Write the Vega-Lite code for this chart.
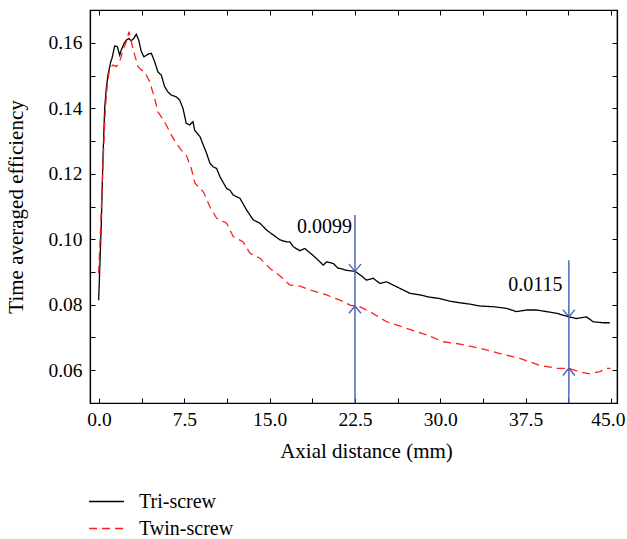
{
  "$schema": "https://vega.github.io/schema/vega-lite/v6.json",
  "autosize": "none",
  "width": 527,
  "height": 393,
  "padding": {"left": 90, "top": 10, "right": 10, "bottom": 136},
  "background": "white",
  "config": {
    "font": "Liberation Serif",
    "view": {"stroke": "black", "strokeWidth": 1.2},
    "axis": {
      "grid": false,
      "domainColor": "black",
      "domainWidth": 1.2,
      "tickColor": "black",
      "tickWidth": 1,
      "tickSize": -5,
      "labelColor": "black",
      "labelFont": "Liberation Serif",
      "labelFontSize": 19.5,
      "titleFont": "Liberation Serif",
      "titleFontSize": 21,
      "titleFontWeight": "normal",
      "titleColor": "black"
    },
    "legend": {
      "labelFont": "Liberation Serif",
      "labelFontSize": 20,
      "labelColor": "black"
    }
  },
  "datasets": {
    "curves": [
      {"s": "Tri-screw", "x": -0.03, "y": 0.0814},
      {"s": "Tri-screw", "x": 0.2, "y": 0.1043},
      {"s": "Tri-screw", "x": 0.35, "y": 0.1248},
      {"s": "Tri-screw", "x": 0.5, "y": 0.14},
      {"s": "Tri-screw", "x": 0.64, "y": 0.146},
      {"s": "Tri-screw", "x": 0.79, "y": 0.1501},
      {"s": "Tri-screw", "x": 1.03, "y": 0.1542},
      {"s": "Tri-screw", "x": 1.14, "y": 0.1552},
      {"s": "Tri-screw", "x": 1.38, "y": 0.159},
      {"s": "Tri-screw", "x": 1.61, "y": 0.1588},
      {"s": "Tri-screw", "x": 1.82, "y": 0.1562},
      {"s": "Tri-screw", "x": 1.96, "y": 0.1578},
      {"s": "Tri-screw", "x": 2.2, "y": 0.1598},
      {"s": "Tri-screw", "x": 2.4, "y": 0.1608},
      {"s": "Tri-screw", "x": 2.61, "y": 0.1613},
      {"s": "Tri-screw", "x": 2.84, "y": 0.1606},
      {"s": "Tri-screw", "x": 3.05, "y": 0.1613},
      {"s": "Tri-screw", "x": 3.28, "y": 0.1626},
      {"s": "Tri-screw", "x": 3.49, "y": 0.1608},
      {"s": "Tri-screw", "x": 3.72, "y": 0.1573},
      {"s": "Tri-screw", "x": 3.95, "y": 0.1557},
      {"s": "Tri-screw", "x": 4.31, "y": 0.1565},
      {"s": "Tri-screw", "x": 4.6, "y": 0.1568},
      {"s": "Tri-screw", "x": 4.89, "y": 0.1542},
      {"s": "Tri-screw", "x": 5.18, "y": 0.1511},
      {"s": "Tri-screw", "x": 5.48, "y": 0.1501},
      {"s": "Tri-screw", "x": 5.77, "y": 0.1466},
      {"s": "Tri-screw", "x": 6.06, "y": 0.145},
      {"s": "Tri-screw", "x": 6.36, "y": 0.144},
      {"s": "Tri-screw", "x": 6.79, "y": 0.1435},
      {"s": "Tri-screw", "x": 7.09, "y": 0.1425},
      {"s": "Tri-screw", "x": 7.38, "y": 0.14},
      {"s": "Tri-screw", "x": 7.67, "y": 0.1354},
      {"s": "Tri-screw", "x": 7.97, "y": 0.1349},
      {"s": "Tri-screw", "x": 8.26, "y": 0.1359},
      {"s": "Tri-screw", "x": 8.41, "y": 0.1333},
      {"s": "Tri-screw", "x": 8.88, "y": 0.1313},
      {"s": "Tri-screw", "x": 9.46, "y": 0.1262},
      {"s": "Tri-screw", "x": 9.75, "y": 0.1232},
      {"s": "Tri-screw", "x": 10.05, "y": 0.1221},
      {"s": "Tri-screw", "x": 10.34, "y": 0.1216},
      {"s": "Tri-screw", "x": 10.63, "y": 0.1191},
      {"s": "Tri-screw", "x": 11.22, "y": 0.1155},
      {"s": "Tri-screw", "x": 11.5, "y": 0.115},
      {"s": "Tri-screw", "x": 11.8, "y": 0.1135},
      {"s": "Tri-screw", "x": 12.39, "y": 0.1125},
      {"s": "Tri-screw", "x": 12.98, "y": 0.1089},
      {"s": "Tri-screw", "x": 13.56, "y": 0.1059},
      {"s": "Tri-screw", "x": 14.15, "y": 0.1049},
      {"s": "Tri-screw", "x": 14.73, "y": 0.1028},
      {"s": "Tri-screw", "x": 15.32, "y": 0.1013},
      {"s": "Tri-screw", "x": 15.91, "y": 0.0998},
      {"s": "Tri-screw", "x": 16.49, "y": 0.0992},
      {"s": "Tri-screw", "x": 16.78, "y": 0.0992},
      {"s": "Tri-screw", "x": 17.08, "y": 0.0977},
      {"s": "Tri-screw", "x": 17.66, "y": 0.0965},
      {"s": "Tri-screw", "x": 18.1, "y": 0.0972},
      {"s": "Tri-screw", "x": 18.25, "y": 0.0967},
      {"s": "Tri-screw", "x": 18.84, "y": 0.095},
      {"s": "Tri-screw", "x": 19.42, "y": 0.0931},
      {"s": "Tri-screw", "x": 19.71, "y": 0.0921},
      {"s": "Tri-screw", "x": 20.01, "y": 0.0931},
      {"s": "Tri-screw", "x": 20.39, "y": 0.0928},
      {"s": "Tri-screw", "x": 20.59, "y": 0.0926},
      {"s": "Tri-screw", "x": 21.03, "y": 0.0911},
      {"s": "Tri-screw", "x": 21.18, "y": 0.0911},
      {"s": "Tri-screw", "x": 21.76, "y": 0.0905},
      {"s": "Tri-screw", "x": 22.5, "y": 0.0902},
      {"s": "Tri-screw", "x": 23.0, "y": 0.089},
      {"s": "Tri-screw", "x": 23.52, "y": 0.0875},
      {"s": "Tri-screw", "x": 24.1, "y": 0.0881},
      {"s": "Tri-screw", "x": 24.69, "y": 0.0865},
      {"s": "Tri-screw", "x": 25.28, "y": 0.087},
      {"s": "Tri-screw", "x": 25.86, "y": 0.086},
      {"s": "Tri-screw", "x": 26.45, "y": 0.085},
      {"s": "Tri-screw", "x": 27.33, "y": 0.0835},
      {"s": "Tri-screw", "x": 28.21, "y": 0.083},
      {"s": "Tri-screw", "x": 29.09, "y": 0.0823},
      {"s": "Tri-screw", "x": 29.96, "y": 0.0819},
      {"s": "Tri-screw", "x": 30.84, "y": 0.0811},
      {"s": "Tri-screw", "x": 31.72, "y": 0.0806},
      {"s": "Tri-screw", "x": 32.6, "y": 0.0802},
      {"s": "Tri-screw", "x": 33.48, "y": 0.0796},
      {"s": "Tri-screw", "x": 34.65, "y": 0.0794},
      {"s": "Tri-screw", "x": 35.82, "y": 0.0789},
      {"s": "Tri-screw", "x": 36.7, "y": 0.0779},
      {"s": "Tri-screw", "x": 37.58, "y": 0.0784},
      {"s": "Tri-screw", "x": 38.46, "y": 0.0784},
      {"s": "Tri-screw", "x": 39.34, "y": 0.0779},
      {"s": "Tri-screw", "x": 40.22, "y": 0.0774},
      {"s": "Tri-screw", "x": 41.3, "y": 0.0763},
      {"s": "Tri-screw", "x": 41.97, "y": 0.0758},
      {"s": "Tri-screw", "x": 42.85, "y": 0.0763},
      {"s": "Tri-screw", "x": 43.44, "y": 0.0748},
      {"s": "Tri-screw", "x": 44.32, "y": 0.0745},
      {"s": "Tri-screw", "x": 44.9, "y": 0.0745},
      {"s": "Twin-screw", "x": -0.03, "y": 0.0896},
      {"s": "Twin-screw", "x": 0.15, "y": 0.1043},
      {"s": "Twin-screw", "x": 0.35, "y": 0.1227},
      {"s": "Twin-screw", "x": 0.56, "y": 0.14},
      {"s": "Twin-screw", "x": 0.73, "y": 0.1471},
      {"s": "Twin-screw", "x": 0.94, "y": 0.1522},
      {"s": "Twin-screw", "x": 1.23, "y": 0.1532},
      {"s": "Twin-screw", "x": 1.52, "y": 0.1527},
      {"s": "Twin-screw", "x": 1.82, "y": 0.1542},
      {"s": "Twin-screw", "x": 2.11, "y": 0.1578},
      {"s": "Twin-screw", "x": 2.4, "y": 0.1603},
      {"s": "Twin-screw", "x": 2.64, "y": 0.1634},
      {"s": "Twin-screw", "x": 2.84, "y": 0.1603},
      {"s": "Twin-screw", "x": 3.14, "y": 0.1562},
      {"s": "Twin-screw", "x": 3.43, "y": 0.1527},
      {"s": "Twin-screw", "x": 3.72, "y": 0.1517},
      {"s": "Twin-screw", "x": 4.02, "y": 0.1511},
      {"s": "Twin-screw", "x": 4.46, "y": 0.1481},
      {"s": "Twin-screw", "x": 4.89, "y": 0.143},
      {"s": "Twin-screw", "x": 5.18, "y": 0.1389},
      {"s": "Twin-screw", "x": 5.48, "y": 0.1374},
      {"s": "Twin-screw", "x": 5.91, "y": 0.1349},
      {"s": "Twin-screw", "x": 6.36, "y": 0.1318},
      {"s": "Twin-screw", "x": 6.79, "y": 0.1293},
      {"s": "Twin-screw", "x": 7.23, "y": 0.1272},
      {"s": "Twin-screw", "x": 7.67, "y": 0.1257},
      {"s": "Twin-screw", "x": 8.11, "y": 0.1216},
      {"s": "Twin-screw", "x": 8.44, "y": 0.1171},
      {"s": "Twin-screw", "x": 9.17, "y": 0.1145},
      {"s": "Twin-screw", "x": 9.75, "y": 0.1099},
      {"s": "Twin-screw", "x": 10.34, "y": 0.1064},
      {"s": "Twin-screw", "x": 11.22, "y": 0.1049},
      {"s": "Twin-screw", "x": 11.8, "y": 0.1008},
      {"s": "Twin-screw", "x": 12.68, "y": 0.0992},
      {"s": "Twin-screw", "x": 13.27, "y": 0.0957},
      {"s": "Twin-screw", "x": 14.15, "y": 0.0942},
      {"s": "Twin-screw", "x": 15.03, "y": 0.0911},
      {"s": "Twin-screw", "x": 15.91, "y": 0.0888},
      {"s": "Twin-screw", "x": 16.78, "y": 0.086},
      {"s": "Twin-screw", "x": 17.66, "y": 0.0857},
      {"s": "Twin-screw", "x": 18.83, "y": 0.0842},
      {"s": "Twin-screw", "x": 20.0, "y": 0.083},
      {"s": "Twin-screw", "x": 21.18, "y": 0.0814},
      {"s": "Twin-screw", "x": 22.06, "y": 0.0799},
      {"s": "Twin-screw", "x": 22.5, "y": 0.0796},
      {"s": "Twin-screw", "x": 22.79, "y": 0.0796},
      {"s": "Twin-screw", "x": 23.81, "y": 0.0779},
      {"s": "Twin-screw", "x": 25.28, "y": 0.0748},
      {"s": "Twin-screw", "x": 27.04, "y": 0.0728},
      {"s": "Twin-screw", "x": 28.8, "y": 0.0708},
      {"s": "Twin-screw", "x": 30.26, "y": 0.0687},
      {"s": "Twin-screw", "x": 31.72, "y": 0.068},
      {"s": "Twin-screw", "x": 33.48, "y": 0.0667},
      {"s": "Twin-screw", "x": 35.24, "y": 0.0651},
      {"s": "Twin-screw", "x": 36.99, "y": 0.0636},
      {"s": "Twin-screw", "x": 38.75, "y": 0.0615},
      {"s": "Twin-screw", "x": 40.22, "y": 0.0606},
      {"s": "Twin-screw", "x": 41.3, "y": 0.0606},
      {"s": "Twin-screw", "x": 42.27, "y": 0.0595},
      {"s": "Twin-screw", "x": 43.15, "y": 0.0589},
      {"s": "Twin-screw", "x": 44.03, "y": 0.0596},
      {"s": "Twin-screw", "x": 44.61, "y": 0.0606},
      {"s": "Twin-screw", "x": 44.96, "y": 0.0606}
    ],
    "rules": [
      {"x": 22.5, "top": 0.1074, "bottom": 0.05},
      {"x": 41.3, "top": 0.0936, "bottom": 0.05}
    ],
    "arrows": [
      {"x": 22.5, "y": 0.0902, "dir": "down"},
      {"x": 22.5, "y": 0.0796, "dir": "up"},
      {"x": 41.3, "y": 0.0763, "dir": "down"},
      {"x": 41.3, "y": 0.0606, "dir": "up"}
    ],
    "labels": [
      {"x": 22.24, "y": 0.1018, "t": "0.0099"},
      {"x": 40.75, "y": 0.0843, "t": "0.0115"}
    ]
  },
  "resolve": {"axis": {"x": "independent", "y": "independent"}},
  "layer": [
    {
      "data": {"name": "curves"},
      "mark": {"type": "line", "strokeWidth": 1.3, "interpolate": "linear"},
      "encoding": {
        "x": {
          "field": "x", "type": "quantitative",
          "scale": {"domain": [-0.79, 45.53], "nice": false, "zero": false},
          "axis": {
            "orient": "bottom",
            "title": "Axial distance (mm)",
            "values": [0, 3.75, 7.5, 11.25, 15, 18.75, 22.5, 26.25, 30, 33.75, 37.5, 41.25, 45],
            "labelExpr": "datum.value % 7.5 == 0 ? format(datum.value, '.1f') : ''",
            "labelPadding": 12,
            "titlePadding": 12,
            "titleX": 276,
            "labelFlush": 7,
            "labelFlushOffset": 14,
            "labelOverlap": false
          }
        },
        "y": {
          "field": "y", "type": "quantitative",
          "scale": {"domain": [0.05, 0.17], "nice": false, "zero": false},
          "axis": {
            "orient": "left",
            "title": "Time averaged efficiency",
            "values": [0.05, 0.06, 0.07, 0.08, 0.09, 0.1, 0.11, 0.12, 0.13, 0.14, 0.15, 0.16],
            "labelExpr": "round(datum.value * 100) % 2 == 0 ? format(datum.value, '.2f') : ''",
            "labelPadding": 13,
            "titlePadding": 21,
            "labelFlush": false,
            "labelOverlap": false
          }
        },
        "color": {
          "field": "s", "type": "nominal", "title": null,
          "scale": {"domain": ["Tri-screw", "Twin-screw"], "range": ["#000000", "#ff1f1f"]},
          "legend": {
            "orient": "none",
            "legendX": -2,
            "legendY": 478,
            "direction": "vertical",
            "symbolType": "stroke",
            "symbolSize": 1225,
            "symbolStrokeWidth": 1.4,
            "clipHeight": 27,
            "labelOffset": 14,
            "padding": 0,
            "rowPadding": 0
          }
        },
        "strokeDash": {
          "field": "s", "type": "nominal", "title": null,
          "scale": {"domain": ["Tri-screw", "Twin-screw"], "range": [[1, 0], [8, 5]]},
          "legend": {
            "orient": "none",
            "legendX": -2,
            "legendY": 478,
            "direction": "vertical",
            "symbolType": "stroke",
            "symbolSize": 1225,
            "symbolStrokeWidth": 1.4,
            "clipHeight": 27,
            "labelOffset": 14,
            "padding": 0,
            "rowPadding": 0
          }
        }
      }
    },
    {
      "data": {"name": "rules"},
      "mark": {"type": "rule", "color": "#3f5cb5", "strokeWidth": 1.4},
      "encoding": {
        "x": {
          "field": "x", "type": "quantitative",
          "axis": {
            "orient": "top", "title": null, "labels": false,
            "values": [0, 3.75, 7.5, 11.25, 15, 18.75, 22.5, 26.25, 30, 33.75, 37.5, 41.25, 45]
          }
        },
        "y": {
          "field": "top", "type": "quantitative",
          "axis": {
            "orient": "right", "title": null, "labels": false,
            "values": [0.05, 0.06, 0.07, 0.08, 0.09, 0.1, 0.11, 0.12, 0.13, 0.14, 0.15, 0.16]
          }
        },
        "y2": {"field": "bottom"}
      }
    },
    {
      "data": {"name": "arrows"},
      "mark": {"type": "point", "filled": false, "stroke": "#3f5cb5", "strokeWidth": 1.3, "opacity": 1},
      "encoding": {
        "x": {"field": "x", "type": "quantitative", "axis": null},
        "y": {"field": "y", "type": "quantitative", "axis": null},
        "shape": {
          "field": "dir", "type": "nominal", "legend": null,
          "scale": {"domain": ["down", "up"], "range": ["M-1,-1.2L0,0L1,-1.2", "M-1,1.2L0,0L1,1.2"]}
        },
        "size": {"value": 144}
      }
    },
    {
      "data": {"name": "labels"},
      "mark": {"type": "text", "align": "right", "baseline": "alphabetic", "fontSize": 20, "color": "black", "font": "Liberation Serif"},
      "encoding": {
        "x": {"field": "x", "type": "quantitative", "axis": null},
        "y": {"field": "y", "type": "quantitative", "axis": null},
        "text": {"field": "t"}
      }
    }
  ]
}
